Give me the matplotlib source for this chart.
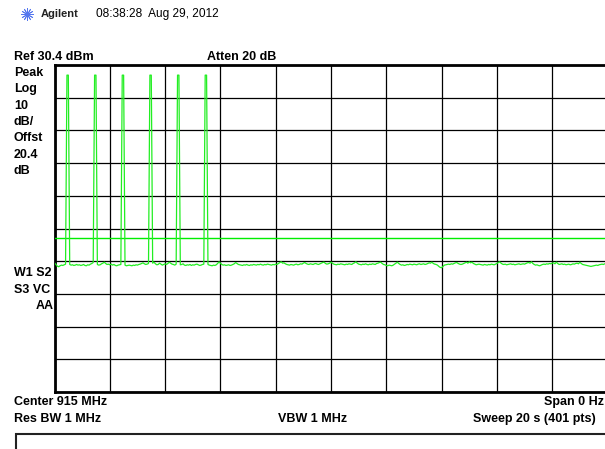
import numpy as np
import matplotlib
matplotlib.use("Agg")
import matplotlib.pyplot as plt
from matplotlib.lines import Line2D
from matplotlib.patches import Rectangle

# ---------------- data ----------------
ref_level = 30.4          # dBm, top of graticule
db_per_div = 10
sweep_time = 20.0         # s
n_points = 401
display_line = -22.6      # dBm

pulse_idx = [9, 10, 29, 30, 49, 50, 69, 70, 89, 90, 109, 110]
pulse_level = 27.3        # dBm

noise = [
    -30.1,-30.6,-31.1,-31.3,-31.0,-30.8,-30.9,-30.7,-30.5,-30.4,-30.3,-30.6,-30.8,-30.7,-30.9,-30.8,-30.6,-30.8,-30.7,-30.9,
    -30.8,-30.6,-30.9,-31.0,-30.7,-30.8,-30.5,-30.3,-30.0,-29.8,-30.2,-30.6,-30.8,-30.7,-30.4,-30.2,-29.9,-30.3,-30.6,-30.5,
    -30.7,-30.5,-30.8,-30.6,-30.9,-31.0,-30.8,-30.7,-30.6,-30.5,-30.7,-30.8,-31.0,-30.9,-30.8,-30.9,-31.0,-30.8,-30.9,-30.7,
    -30.8,-30.6,-30.5,-30.3,-30.1,-30.4,-30.6,-30.5,-30.3,-30.4,-30.6,-30.2,-29.9,-30.4,-30.7,-30.6,-30.2,-30.5,-30.8,-30.6,
    -30.4,-30.6,-30.3,-29.9,-30.2,-30.5,-30.6,-30.8,-30.5,-30.4,-30.6,-30.7,-30.6,-30.4,-30.8,-30.9,-30.7,-30.8,-30.6,-30.9,
    -30.7,-30.8,-30.6,-30.5,-30.7,-30.9,-30.8,-30.6,-30.5,-30.3,-30.2,-30.6,-30.8,-30.9,-31.0,-30.8,-30.9,-30.7,-30.3,-29.8,
    -30.2,-30.6,-30.8,-30.7,-30.9,-30.8,-30.7,-30.9,-30.8,-30.6,-30.4,-30.0,-30.3,-30.6,-30.7,-30.8,-30.9,-30.7,-30.8,-30.6,
    -30.8,-30.9,-30.7,-30.8,-30.6,-30.7,-30.8,-30.6,-30.7,-30.5,-30.7,-30.8,-30.6,-30.7,-30.5,-30.6,-30.7,-30.8,-30.6,-30.7,
    -30.5,-30.6,-30.3,-30.0,-29.8,-30.2,-30.1,-30.4,-30.6,-30.7,-30.8,-30.6,-30.7,-30.8,-30.6,-30.5,-30.7,-30.6,-30.4,-30.5,
    -30.2,-30.0,-30.3,-30.5,-30.6,-30.4,-30.5,-30.6,-30.4,-30.3,-30.5,-30.6,-30.4,-30.2,-30.0,-29.9,-30.3,-30.5,-30.4,-30.2,
    -29.9,-30.2,-30.5,-30.6,-30.7,-30.5,-30.6,-30.4,-30.5,-30.6,-30.7,-30.5,-30.6,-30.4,-30.5,-30.6,-30.3,-30.1,-29.8,-30.2,
    -30.5,-30.6,-30.7,-30.5,-30.6,-30.4,-30.6,-30.7,-30.5,-30.6,-30.4,-30.5,-30.6,-30.3,-30.2,-30.0,-29.9,-30.3,-30.6,-30.7,
    -30.9,-31.0,-30.8,-30.9,-31.0,-30.8,-30.5,-30.2,-29.9,-30.3,-30.6,-30.8,-30.7,-30.9,-30.8,-30.6,-30.7,-30.5,-30.6,-30.7,
    -30.5,-30.6,-30.7,-30.5,-30.4,-30.6,-30.5,-30.4,-30.6,-30.5,-30.3,-30.1,-30.2,-29.9,-30.3,-30.5,-30.6,-30.8,-31.2,-31.5,
    -31.6,-31.2,-30.8,-30.7,-30.6,-30.5,-30.6,-30.4,-30.5,-30.3,-30.1,-30.0,-30.3,-30.5,-30.6,-30.5,-30.3,-30.1,-29.9,-30.2,
    -29.8,-30.1,-29.9,-30.3,-30.5,-30.7,-30.6,-30.5,-30.6,-30.7,-30.8,-30.6,-30.7,-30.8,-30.6,-30.7,-30.5,-30.6,-30.7,-30.5,
    -30.3,-30.0,-29.8,-30.2,-30.5,-30.6,-30.5,-30.7,-30.6,-30.5,-30.4,-30.6,-30.5,-30.7,-30.6,-30.5,-30.4,-30.6,-30.5,-30.4,
    -30.5,-30.3,-30.1,-30.0,-30.2,-29.8,-30.3,-30.6,-30.8,-30.7,-30.9,-31.0,-30.8,-30.6,-30.5,-30.6,-30.4,-30.5,-30.3,-30.4,
    -30.2,-30.1,-30.4,-29.9,-30.3,-30.6,-30.5,-30.4,-30.6,-30.5,-30.7,-30.6,-30.5,-30.7,-30.6,-30.4,-30.5,-30.3,-30.2,-30.4,
    -29.9,-30.3,-30.6,-30.7,-30.8,-30.9,-31.0,-31.1,-31.2,-31.1,-31.0,-30.9,-30.8,-30.9,-30.7,-30.6,-30.5,-30.6,-30.4,-30.5,
    -30.6,
]

header_time = "08:38:28  Aug 29, 2012"
left_labels = ["Peak", "Log", "10", "dB/", "Offst", "20.4", "dB"]

# ---------------- figure ----------------
W, H = 605, 449
fig = plt.figure(figsize=(W / 100, H / 100), dpi=100)
fig.patch.set_facecolor("white")
plt.rcParams['font.family'] = ['Liberation Sans', 'DejaVu Sans']


def fx(x):
    return x / W


def fy(y):
    return 1 - y / H


left_px, top_px, right_px, bot_px = 54.5, 65.0, 607.5, 392.0
ax = fig.add_axes([fx(left_px), fy(bot_px), (right_px - left_px) / W, (bot_px - top_px) / H])

t = np.arange(n_points) * sweep_time / (n_points - 1)
trace = np.array(noise, dtype=float)
trace[pulse_idx] = pulse_level

ax.set_xlim(0, sweep_time)
ax.set_ylim(ref_level - 10 * db_per_div, ref_level)
ax.set_xticks(np.linspace(0, sweep_time, 11))
ax.set_yticks(np.linspace(ref_level - 10 * db_per_div, ref_level, 11))
ax.tick_params(length=0, labelbottom=False, labelleft=False)
ax.grid(True, color="black", linewidth=0.9)
ax.set_axisbelow(True)
for s in ["left", "top", "bottom"]:
    ax.spines[s].set_linewidth(2.0)
ax.spines["right"].set_visible(False)

ax.axhline(display_line, color="#00ee00", linewidth=1.0, zorder=3)
ax.plot(t, trace, color="#22ee22", linewidth=0.9, zorder=4)

bold = dict(fontsize=9, fontweight="bold", color="black", va="center")

# header
fig.add_artist(Line2D([fx(27)], [fy(14)], marker=(12, 2, 0), markersize=9,
                      color="#5577ee", markeredgewidth=0.6, transform=fig.transFigure))
fig.text(fx(41), fy(14), "Agilent", fontsize=8, fontweight="bold", color="#222222", va="center")
fig.text(fx(96), fy(14), header_time, fontsize=8.6, color="black", va="center")

fig.text(fx(14), fy(57), "Ref 30.4 dBm", **bold)
fig.text(fx(207), fy(57), "Atten 20 dB", **bold)

for i, lab in enumerate(left_labels):
    fig.text(fx(14), fy(73 + i * 16.3), lab, **bold)

fig.text(fx(14), fy(273), "W1 S2", **bold)
fig.text(fx(14), fy(290), "S3 VC", **bold)
fig.text(fx(54), fy(306), "AA", ha="right", **bold)

fig.text(fx(14), fy(402), "Center 915 MHz", **bold)
fig.text(fx(604), fy(402), "Span 0 Hz", ha="right", **bold)
fig.text(fx(14), fy(419), "Res BW 1 MHz", **bold)
fig.text(fx(278), fy(419), "VBW 1 MHz", **bold)
fig.text(fx(596), fy(419), "Sweep 20 s (401 pts)", ha="right", **bold)

fig.add_artist(Rectangle((fx(15.5), fy(470)), (620 - 15.5) / W, (470 - 434) / H,
                         transform=fig.transFigure, fill=False, edgecolor="#222222",
                         linewidth=1.5))

fig.savefig("out.png", dpi=100, facecolor="white")
